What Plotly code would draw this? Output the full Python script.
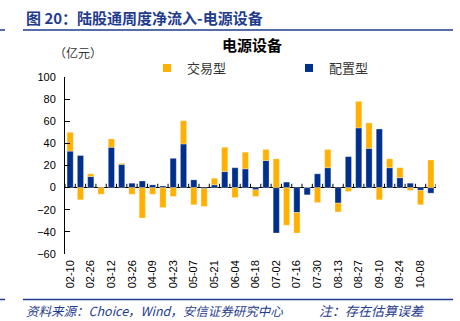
import plotly.graph_objects as go

# ---- data ----
dates = ["02-10", "02-18", "02-26", "03-04", "03-12", "03-19", "03-26", "04-02",
         "04-09", "04-16", "04-23", "04-30", "05-07", "05-14", "05-21", "05-28",
         "06-04", "06-11", "06-18", "06-25", "07-02", "07-09", "07-16", "07-23",
         "07-30", "08-06", "08-13", "08-20", "08-27", "09-03", "09-10", "09-17",
         "09-24", "10-01", "10-08", "10-15"]
tick_labels = dates[::2]
allocation = [33, 29, 10, 0, 36.5, 21, 4, 6, 2.5, 1.5, 26.5, 39.5, 7, -1, 2.5, 14.5,
              18, 17, -2, 24.5, -41, 5, -22.5, -6.5, 12.5, 18, -14, 28, 54, 35.5,
              53, 18, 9, 4, -2.5, -5]
trading = [17, -11, 2.5, -6, 7.5, 1, -6, -27.5, -6, -18, -8, 21, -15.5, -16, 6, 22,
           -9, 15, -6, 10, 26, -34, -18.5, 0, -13.5, 16.5, -8, -3.5, 24, 23,
           -11, 8, 9, -2.5, -13, 25]

ORANGE = "#FFB000"
BLUE = "#00308C"
HEAD = "#1F3C8E"
FONT = "Liberation Sans, Arial, sans-serif"
CJK = "Noto Sans CJK SC, sans-serif"

W, H = 460, 321
L, R, T, B = 65, 436, 77, 254


def px(x):
    return (x - L) / (R - L)


def py(y):
    return (B - y) / (B - T)


fig = go.Figure()
fig.add_trace(go.Bar(x=dates, y=allocation, name="配置型", marker_color=BLUE,
                     marker_line=dict(color="rgba(255,255,255,0.5)", width=0.6),
                     showlegend=False))
fig.add_trace(go.Bar(x=dates, y=trading, name="交易型", marker_color=ORANGE,
                     marker_line=dict(color="rgba(255,255,255,0.5)", width=0.6),
                     showlegend=False))
# legend entries
fig.add_trace(go.Scatter(x=[None], y=[None], mode="markers", name="交易型",
                         marker=dict(symbol="square", size=8, color=ORANGE)))
fig.add_trace(go.Scatter(x=[None], y=[None], mode="markers", name="配置型",
                         marker=dict(symbol="square", size=8, color=BLUE)))

shapes = []
# category boundary ticks on zero line
for i in range(len(dates) + 1):
    shapes.append(dict(type="line", xref="x", yref="y", x0=i - 0.5, x1=i - 0.5,
                       y0=0, y1=3.5, line=dict(color="black", width=1)))
# header / footer rules
for yy in (30, 299.5):
    shapes.append(dict(type="line", xref="paper", yref="paper", x0=px(23), x1=px(453),
                       y0=py(yy), y1=py(yy), line=dict(color=HEAD, width=1.5)))
    shapes.append(dict(type="line", xref="paper", yref="paper", x0=px(0), x1=px(5),
                       y0=py(yy), y1=py(yy), line=dict(color=HEAD, width=1.5)))

annotations = [
    dict(text="<b>图 20：陆股通周度净流入-电源设备</b>", x=px(24), y=py(17),
         xref="paper", yref="paper", xanchor="left", yanchor="middle", showarrow=False,
         font=dict(family=CJK, size=15, color=HEAD)),
    dict(text="<b>电源设备</b>", x=px(252), y=py(45), xref="paper", yref="paper",
         xanchor="center", yanchor="middle", showarrow=False,
         font=dict(family=CJK, size=15, color="black")),
    dict(text="（亿元）", x=px(52), y=py(52), xref="paper", yref="paper",
         xanchor="left", yanchor="middle", showarrow=False,
         font=dict(family=CJK, size=12, color="#333333")),
    dict(text="<i>资料来源：Choice，Wind，安信证券研究中心</i>", x=px(24), y=py(310),
         xref="paper", yref="paper", xanchor="left", yanchor="middle", showarrow=False,
         font=dict(family=CJK, size=12.5, color=HEAD)),
    dict(text="<i>注：存在估算误差</i>", x=px(317), y=py(310),
         xref="paper", yref="paper", xanchor="left", yanchor="middle", showarrow=False,
         font=dict(family=CJK, size=13, color=HEAD)),
]

fig.update_layout(
    width=W, height=H,
    margin=dict(l=L, r=W - R, t=T, b=H - B, pad=0),
    paper_bgcolor="white", plot_bgcolor="white",
    barmode="relative", bargap=0.4,
    shapes=shapes, annotations=annotations,
    showlegend=True,
    legend=dict(orientation="h", x=px(147), y=py(68), xanchor="left", yanchor="middle",
                entrywidth=97, entrywidthmode="pixels",
                font=dict(family=CJK, size=13, color="#333333"),
                bgcolor="rgba(0,0,0,0)"),
    xaxis=dict(type="category", categoryorder="array", categoryarray=dates,
               range=[-0.5, len(dates) - 0.5],
               tickvals=tick_labels, ticktext=tick_labels, tickangle=-90,
               showline=False, showgrid=False, zeroline=False, ticks="",
               ticklabelstandoff=3,
               tickfont=dict(family=FONT, size=11, color="black")),
    yaxis=dict(range=[-60, 100], dtick=20, tick0=0, showgrid=False,
               showline=True, linecolor="black", linewidth=1,
               ticks="inside", ticklen=5, tickcolor="black",
               zeroline=True, zerolinecolor="black", zerolinewidth=1,
               ticklabelstandoff=6,
               tickfont=dict(family=FONT, size=11, color="black")),
)

fig.write_html("out.html")
